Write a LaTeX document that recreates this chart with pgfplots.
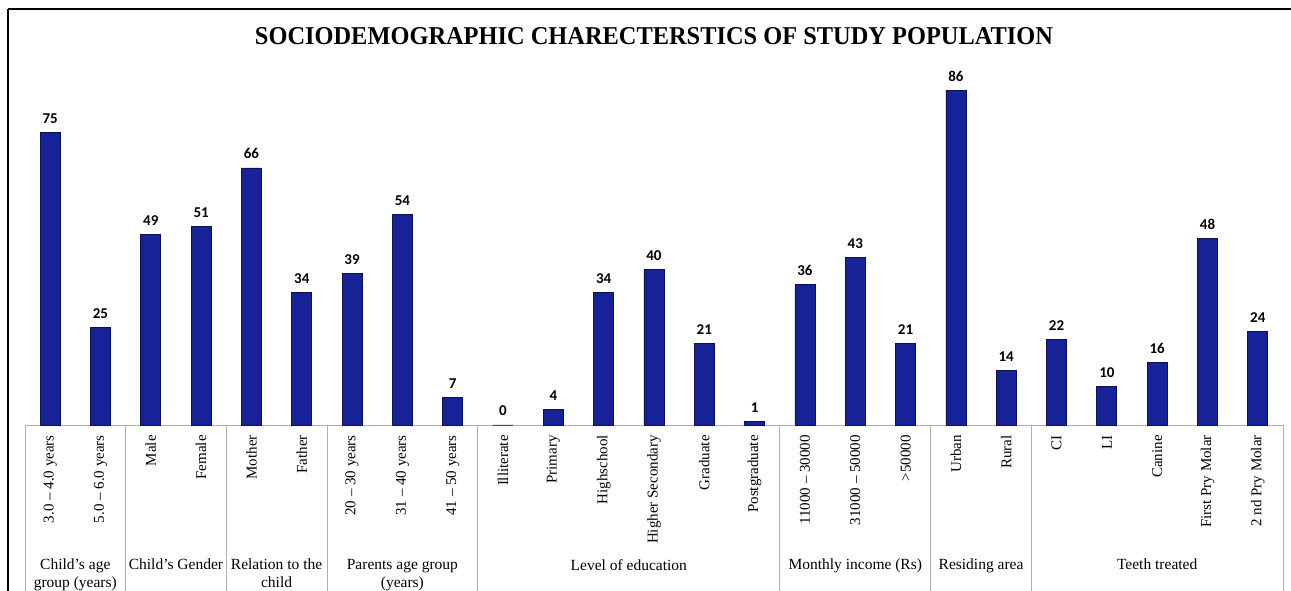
\documentclass[border=0pt]{standalone}
\usepackage{fontspec}
\setmainfont{Liberation Serif}
\newfontfamily\calibri{Carlito}
\usepackage{graphicx}
\usepackage{pgfplots}
\pgfplotsset{compat=1.18}
\definecolor{barfill}{RGB}{24,34,152}
\definecolor{baredge}{RGB}{12,18,88}
\definecolor{sepgray}{RGB}{175,175,175}

\begin{document}
\begin{tikzpicture}
\path[use as bounding box] (0pt,0pt) rectangle (1291pt,591pt);
% outer frame (top and left)
\draw[line width=2pt] (8pt,582pt) -- (1291pt,582pt);
\draw[line width=2pt] (8pt,582pt) -- (8pt,0pt);
\node at (654pt,555pt) {\resizebox{798pt}{17pt}{\bfseries SOCIODEMOGRAPHIC CHARECTERSTICS OF STUDY POPULATION}};

\begin{axis}[
    at={(25pt,166pt)}, anchor=south west,
    scale only axis, width=1258pt, height=335pt,
    xmin=-0.5, xmax=24.5, ymin=0, ymax=86,
    ybar, bar width=20pt,
    axis x line*=bottom, axis y line=none,
    x axis line style={sepgray, line width=0.8pt},
    clip=false,
    xtick={0,...,24},
    major tick length=0pt,
    xticklabels={3.0 – 4.0 years, 5.0 – 6.0 years, Male, Female, Mother, Father,
        20 – 30 years, 31 – 40 years, 41 – 50 years, Illiterate, Primary, Highschool,
        Higher Secondary, Graduate, Postgraduate, 11000 – 30000, 31000 – 50000, {>}50000,
        Urban, Rural, CI, LI, Canine, First Pry Molar, 2 nd Pry Molar},
    xticklabel style={rotate=90, anchor=east, inner sep=0pt,
        font=\fontsize{15}{17}\selectfont},
    xticklabel shift=10pt,
    /pgf/number format/assume math mode=true,
    nodes near coords,
    every node near coord/.append style={font=\calibri\bfseries\fontsize{15}{15}\selectfont,
        anchor=base, yshift=9pt, inner sep=0pt, text=black},
    ]
\addplot[fill=barfill, draw=baredge, line width=0.8pt] coordinates {
    (0,75) (1,25) (2,49) (3,51) (4,66) (5,34) (6,39) (7,54) (8,7)
    (9,0) (10,4) (11,34) (12,40) (13,21) (14,1)
    (15,36) (16,43) (17,21) (18,86) (19,14)
    (20,22) (21,10) (22,16) (23,48) (24,24)};

% group separators
\pgfplotsinvokeforeach{-0.5,1.5,3.5,5.5,8.5,14.5,17.5,19.5,24.5}{
    \draw[sepgray, line width=0.8pt] (axis cs:#1,0) -- ([yshift=-166pt]axis cs:#1,0);
}
% group labels
\tikzset{grp/.style={anchor=north, align=center, inner sep=0pt,
    font=\fontsize{15.5}{18}\selectfont}}
\node[grp] at ([yshift=-134pt]axis cs:0.5,0) {Child’s age\\group (years)};
\node[grp] at ([yshift=-134pt]axis cs:2.5,0) {Child’s Gender};
\node[grp] at ([yshift=-134pt]axis cs:4.5,0) {Relation to the\\child};
\node[grp] at ([yshift=-134pt]axis cs:7,0) {Parents age group\\(years)};
\node[grp] at ([yshift=-134pt]axis cs:11.5,0) {Level of education};
\node[grp] at ([yshift=-134pt]axis cs:16,0) {Monthly income (Rs)};
\node[grp] at ([yshift=-134pt]axis cs:18.5,0) {Residing area};
\node[grp] at ([yshift=-134pt]axis cs:22,0) {Teeth treated};
\end{axis}
\end{tikzpicture}
\end{document}
